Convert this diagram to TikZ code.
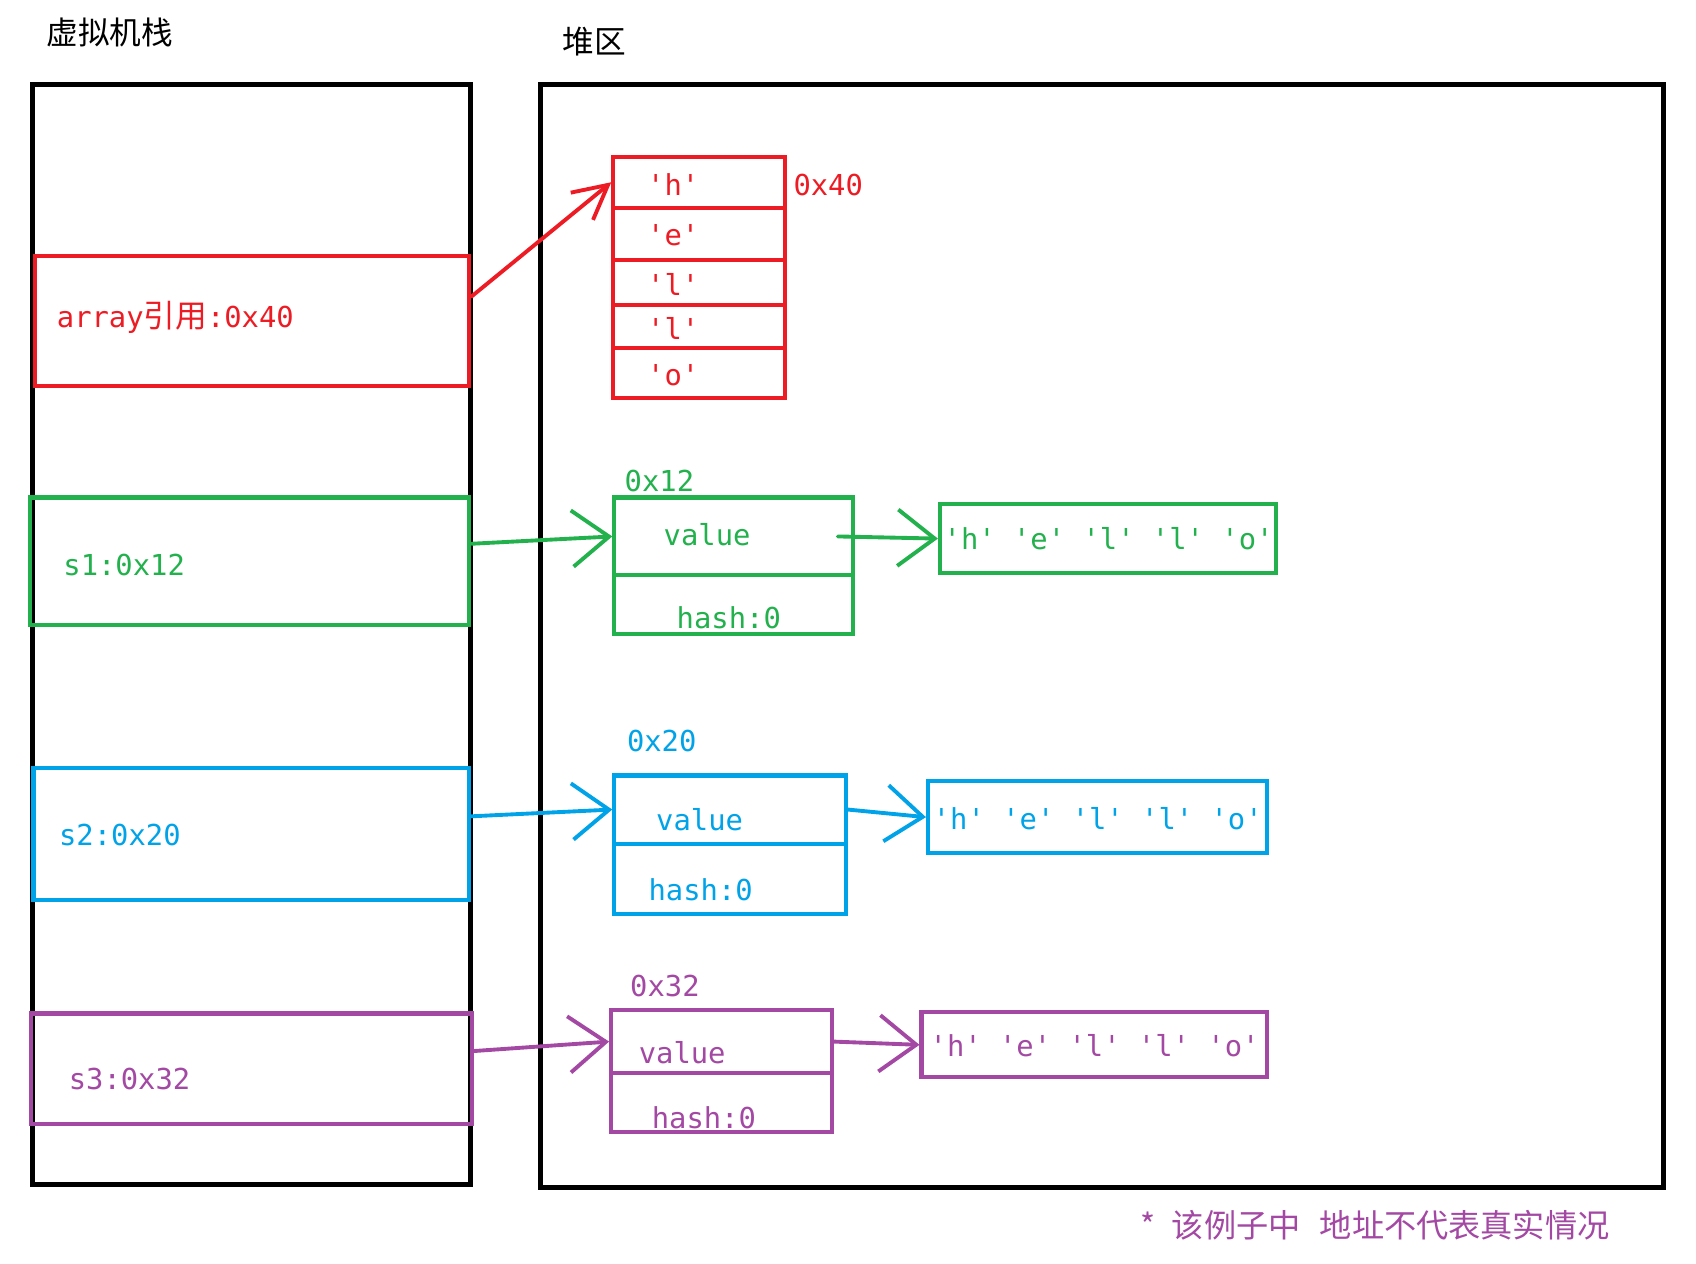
\documentclass[tikz,border=0pt]{standalone}
\usepackage{fontspec}
\setmonofont{DejaVu Sans Mono}
\newfontfamily\cjk{Noto Sans CJK SC}
\usetikzlibrary{arrows.meta,positioning,calc,fit}
\definecolor{cred}{RGB}{237,28,36}
\definecolor{cgreen}{RGB}{34,177,76}
\definecolor{cblue}{RGB}{0,162,232}
\definecolor{cpurple}{RGB}{163,73,164}
\begin{document}
\begin{tikzpicture}[x=0.01cm,y=-0.01cm,>={Straight Barb[length=10.5pt,width=16pt]},
  frame/.style={draw,line width=1.4pt,inner sep=0pt},
  cell/.style={draw=#1,line width=1.15pt,inner sep=0pt},
  txt/.style={text=#1,font=\ttfamily\fontsize{8.2}{10}\selectfont,inner sep=0pt},
  title/.style={font=\cjk\fontsize{9}{10}\selectfont,inner sep=0pt},
  link/.style={->,draw=#1,line width=1.1pt,line cap=round}]
\useasboundingbox (0,0) rectangle (1696,1264);
\node[title] (stacktitle) at (109.8,32.4) {虚拟机栈};
\node[title] (heaptitle) at (594.3,41.1) {堆区};
\node[frame,fit={(32.4,84.4)(470.5,1184.4)}] (stack) {};
\node[frame,fit={(540.8,84.4)(1663.5,1187.6)}] (heap) {};
% stack entries
\node[cell=cred,fit={(34.6,256.3)(469.4,386.1)}] (arr) {};
\node[txt=cred,anchor=west] (arrtxt) at (56.2,316.9) {array{\cjk\fontsize{9}{10}\selectfont 引用}:0x40};
\node[cell=cgreen,fit={(30.3,497.5)(469.4,625.2)}] (s1) {};
\node[txt=cgreen,anchor=west] (s1txt) at (62.7,564.6) {s1:0x12};
\node[cell=cblue,fit={(33.5,767.9)(469.4,899.9)}] (s2) {};
\node[txt=cblue,anchor=west] (s2txt) at (58.4,835) {s2:0x20};
\node[cell=cpurple,fit={(31.4,1013.5)(471.6,1123.8)}] (s3) {};
\node[txt=cpurple,anchor=west] (s3txt) at (68.1,1079.4) {s3:0x32};
% char array
\foreach \ch/\ya/\yb [count=\i] in {h/156.8/207.7,e/207.7/259.6,l/259.6/305.0,l/305.0/348.3,o/348.3/398.0}{
  \node[cell=cred,fit={(613.3,\ya)(785.2,\yb)}] (ch\i) {};
  \node[txt=cred] (chtxt\i) at ($(ch\i.center)+(-26,2)$) {'\ch'};
}
\node[txt=cred,anchor=west] (addr40) at (792.8,185) {0x40};
% s1 object
\node[txt=cgreen,anchor=west] (addr12) at (624,481.3) {0x12};
\node[cell=cgreen,fit={(614.3,497.5)(853.4,575.4)}] (val1) {};
\node[cell=cgreen,fit={(614.3,575.4)(853.4,633.8)}] (hash1) {};
\node[txt=cgreen,anchor=west] at (663,534.3) {value};
\node[txt=cgreen,anchor=west] at (676,617.6) {hash:0};
\node[cell=cgreen,fit={(939.9,504)(1276.3,573.2)}] (str1) {};
\node[txt=cgreen] at (1108.6,538.6) {'h' 'e' 'l' 'l' 'o'};
% s2 object
\node[txt=cblue,anchor=west] (addr20) at (626.3,740.9) {0x20};
\node[cell=cblue,fit={(614.3,775.5)(845.8,843.6)}] (val2) {};
\node[cell=cblue,fit={(614.3,843.6)(845.8,913.9)}] (hash2) {};
\node[txt=cblue,anchor=west] at (655.5,819.9) {value};
\node[txt=cblue,anchor=west] at (647.9,890.2) {hash:0};
\node[cell=cblue,fit={(928,780.9)(1266.6,853.4)}] (str2) {};
\node[txt=cblue] at (1097.8,818.8) {'h' 'e' 'l' 'l' 'o'};
% s3 object
\node[txt=cpurple,anchor=west] (addr32) at (629.5,986.4) {0x32};
\node[cell=cpurple,fit={(611.1,1010.2)(831.8,1073)}] (val3) {};
\node[cell=cpurple,fit={(611.1,1073)(831.8,1132.4)}] (hash3) {};
\node[txt=cpurple,anchor=west] at (638.1,1052.4) {value};
\node[txt=cpurple,anchor=west] at (651.1,1117.3) {hash:0};
\node[cell=cpurple,fit={(921.5,1012.4)(1266.6,1077.3)}] (str3) {};
\node[txt=cpurple] at (1094.6,1045.9) {'h' 'e' 'l' 'l' 'o'};
% references
\draw[link=cred,>={Straight Barb[length=9.6pt,width=10pt]}] ([yshift=7pt]arr.east) -- (ch1.west);
\draw[link=cgreen] ([yshift=5pt]s1.east) -- (val1.west);
\draw[link=cgreen] ([xshift=-5pt]val1.east) -- (str1.west);
\draw[link=cblue] ([yshift=5pt]s2.east) -- (val2.west);
\draw[link=cblue] (val2.east) -- (str2.west);
\draw[link=cpurple] ([yshift=5pt]s3.east) -- (val3.west);
\draw[link=cpurple] (val3.east) -- (str3.west);
\node[font=\cjk\fontsize{9.15}{11}\selectfont,text=cpurple,anchor=west,inner sep=0pt] (note) at (1140,1225.5) {*\hspace{0.5em}该例子中\hspace{0.6em}地址不代表真实情况};
\end{tikzpicture}
\end{document}
